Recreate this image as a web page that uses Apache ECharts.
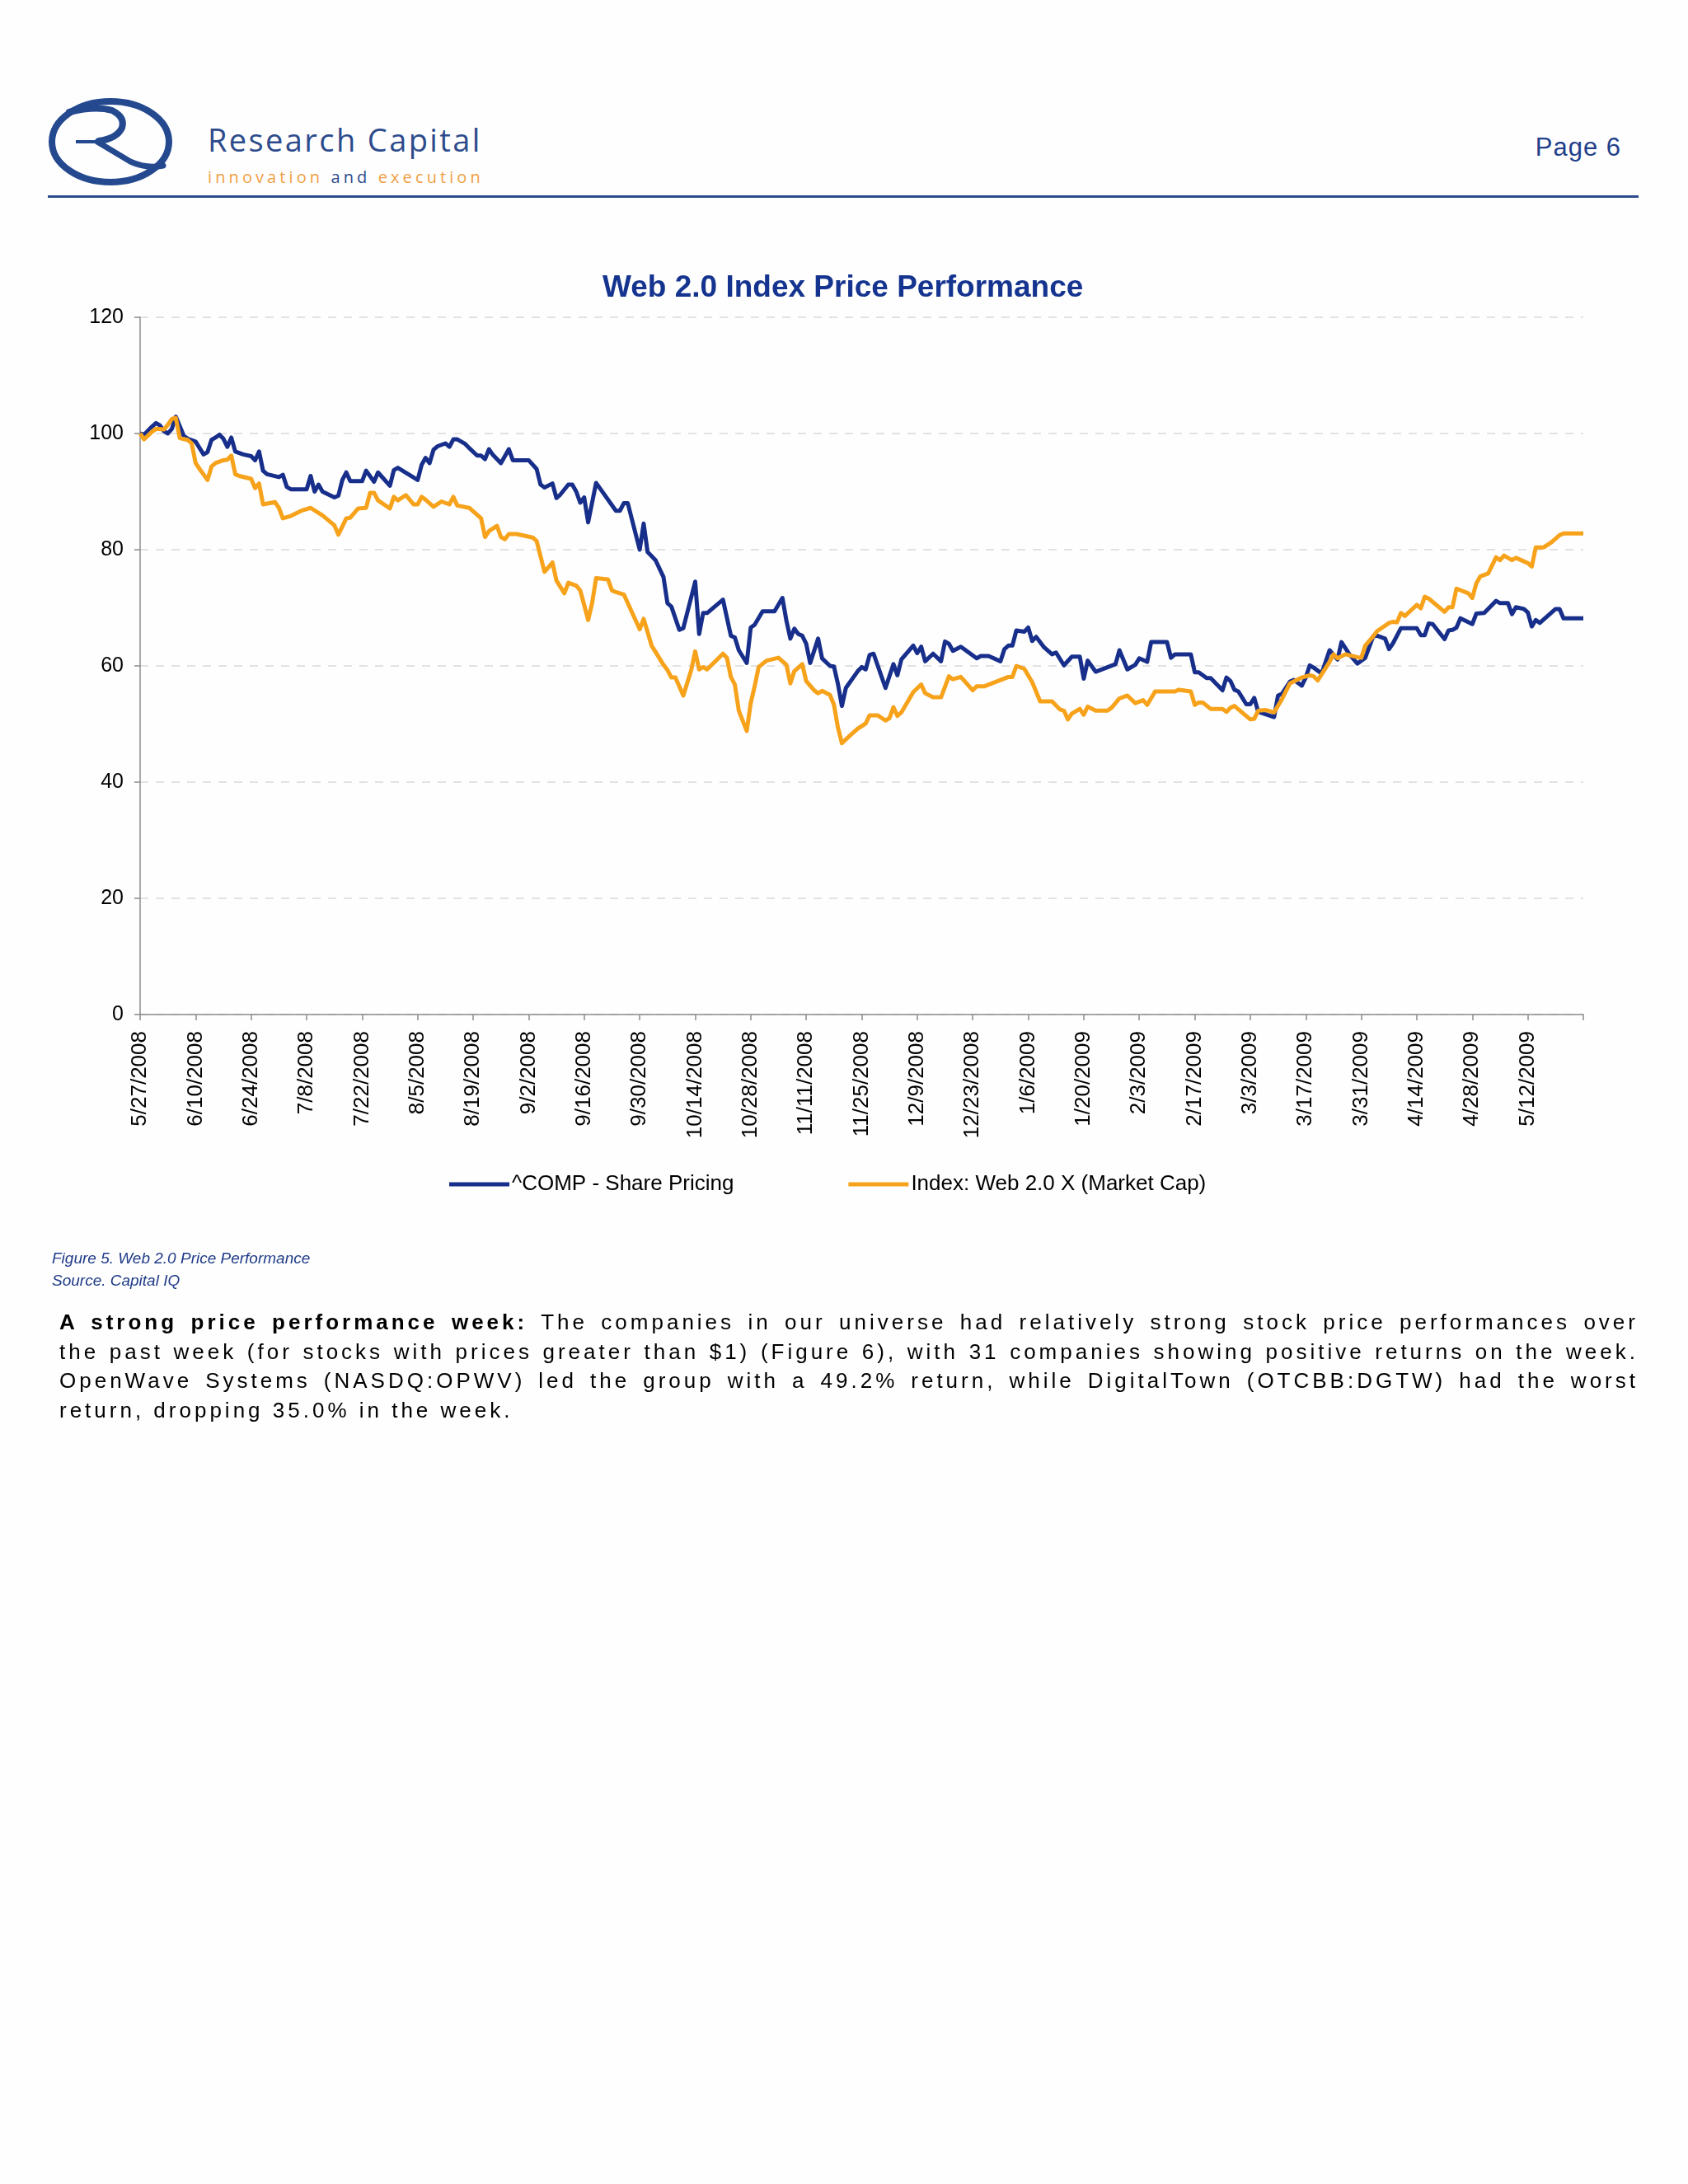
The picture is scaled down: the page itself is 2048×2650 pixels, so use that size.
<!DOCTYPE html>
<html>
<head>
<meta charset="utf-8">
<script src="https://cdn.jsdelivr.net/npm/echarts/dist/echarts.min.js"></script>
<style>
  html, body { margin: 0; padding: 0; background: #fefefe; }
  #page { position: relative; width: 2048px; height: 2650px; overflow: hidden; background: #fefefe; }
  #chart { position: absolute; left: 0; top: 0; width: 2048px; height: 2650px; }
  .abs { position: absolute; white-space: nowrap; }
  #brand { left: 252px; top: 150px; font: 38px/38px "Open Sans", sans-serif; letter-spacing: 2.4px; color: #2d4b8c; }
  #tag { left: 252px; top: 205px; font: 20px/20px "Open Sans", sans-serif; letter-spacing: 4.1px; color: #f0a043; }
  #tag .and { color: #2d4b8c; }
  #pageno { right: 81px; top: 163px; font: 31px/31px "Liberation Sans", Arial, sans-serif; letter-spacing: 1px; color: #1f3f8a; }
  #rule { left: 58px; top: 237px; width: 1930px; height: 3px; background: #2d4b8c; }
  #caption { left: 63px; top: 1513px; font: italic 19px/27px "Liberation Sans", Arial, sans-serif; color: #1f3b87; }
  #para { position: absolute; left: 72px; width: 1916px; top: 1587px; font: 26px/35.5px "Liberation Sans", Arial, sans-serif; letter-spacing: 4px; color: #000; }
  #para .ln { text-align: justify; text-align-last: justify; white-space: nowrap; }
  #para .ln.last { text-align-last: left; }
</style>
</head>
<body>
<div id="page">
  <svg class="abs" style="left:0;top:0" width="300" height="260" viewBox="0 0 300 260">
    <ellipse cx="134" cy="172" rx="71" ry="49" fill="none" stroke="#24498f" stroke-width="8"/>
    <path d="M84 136 Q116 128 136 134 Q152 142 148 155 Q142 168 120 171" fill="none" stroke="#24498f" stroke-width="8" stroke-linecap="round"/>
    <path d="M92 172 L128 172" fill="none" stroke="#24498f" stroke-width="4"/>
    <path d="M118 172 Q138 184 158 196 Q178 205 198 201" fill="none" stroke="#24498f" stroke-width="7" stroke-linecap="round"/>
  </svg>
  <div id="brand" class="abs">Research Capital</div>
  <div id="tag" class="abs">innovation <span class="and">and</span> execution</div>
  <div id="pageno" class="abs">Page 6</div>
  <div id="rule" class="abs"></div>
  <div id="chart"></div>
  <div id="caption" class="abs">Figure 5. Web 2.0 Price Performance<br>Source. Capital IQ</div>
  <div id="para">
    <div class="ln"><b>A strong price performance week:</b> The companies in our universe had relatively strong stock price performances over</div>
    <div class="ln">the past week (for stocks with prices greater than $1) (Figure 6), with 31 companies showing positive returns on the week.</div>
    <div class="ln">OpenWave Systems (NASDQ:OPWV) led the group with a 49.2% return, while DigitalTown (OTCBB:DGTW) had the worst</div>
    <div class="ln last">return, dropping 35.0% in the week.</div>
  </div>
</div>
<script>
// ---------- data ----------
const chartTitle = 'Web 2.0 Index Price Performance';
const seriesNames = ['^COMP - Share Pricing', 'Index: Web 2.0 X (Market Cap)'];
const tickLabels = ['5/27/2008','6/10/2008','6/24/2008','7/8/2008','7/22/2008','8/5/2008','8/19/2008','9/2/2008',
  '9/16/2008','9/30/2008','10/14/2008','10/28/2008','11/11/2008','11/25/2008','12/9/2008','12/23/2008','1/6/2009',
  '1/20/2009','2/3/2009','2/17/2009','3/3/2009','3/17/2009','3/31/2009','4/14/2009','4/28/2009','5/12/2009'];
const axisStartDate = '5/27/2008';
const axisEndDate = '5/26/2009';

// ^COMP - Share Pricing  [date, indexed value]
const comSeries = [
 ['5/27/2008',100.0],['5/28/2008',99.8],['5/30/2008',101.2],['5/31/2008',101.8],['6/1/2008',101.4],['6/2/2008',100.4],
 ['6/3/2008',100.0],['6/4/2008',100.8],['6/5/2008',102.9],['6/7/2008',99.6],['6/8/2008',99.1],['6/10/2008',98.6],
 ['6/12/2008',96.4],['6/13/2008',96.8],['6/14/2008',98.9],['6/15/2008',99.3],['6/16/2008',99.8],['6/17/2008',99.1],
 ['6/18/2008',97.7],['6/19/2008',99.3],['6/20/2008',96.9],['6/22/2008',96.4],['6/24/2008',96.1],['6/25/2008',95.4],
 ['6/26/2008',96.9],['6/27/2008',93.6],['6/28/2008',93.0],['7/1/2008',92.5],['7/2/2008',92.9],['7/3/2008',90.8],
 ['7/4/2008',90.4],['7/8/2008',90.4],['7/9/2008',92.7],['7/10/2008',90.0],['7/11/2008',91.2],['7/12/2008',90.0],
 ['7/15/2008',89.0],['7/16/2008',89.3],['7/17/2008',92.0],['7/18/2008',93.3],['7/19/2008',91.8],['7/22/2008',91.8],
 ['7/23/2008',93.6],['7/25/2008',91.7],['7/26/2008',93.3],['7/29/2008',91.0],['7/30/2008',93.7],['7/31/2008',94.1],
 ['8/5/2008',92.0],['8/6/2008',94.6],['8/7/2008',95.8],['8/8/2008',94.9],['8/9/2008',97.2],['8/10/2008',97.8],
 ['8/12/2008',98.3],['8/13/2008',97.7],['8/14/2008',99.0],['8/15/2008',99.0],['8/17/2008',98.2],['8/18/2008',97.5],
 ['8/20/2008',96.2],['8/21/2008',96.2],['8/22/2008',95.6],['8/23/2008',97.3],['8/24/2008',96.3],['8/26/2008',94.9],
 ['8/28/2008',97.3],['8/29/2008',95.4],['9/2/2008',95.4],['9/4/2008',93.9],['9/5/2008',91.2],['9/6/2008',90.7],
 ['9/8/2008',91.4],['9/9/2008',88.9],['9/10/2008',89.5],['9/12/2008',91.2],['9/13/2008',91.2],['9/14/2008',90.0],
 ['9/15/2008',88.1],['9/16/2008',89.0],['9/17/2008',84.7],['9/19/2008',91.5],['9/24/2008',86.7],['9/25/2008',86.7],
 ['9/26/2008',88.0],['9/27/2008',88.0],['9/30/2008',80.0],['10/1/2008',84.5],['10/2/2008',79.6],['10/4/2008',78.2],
 ['10/6/2008',75.3],['10/7/2008',70.8],['10/8/2008',70.2],['10/10/2008',66.2],['10/11/2008',66.5],['10/14/2008',74.5],
 ['10/15/2008',65.5],['10/16/2008',69.1],['10/17/2008',69.1],['10/21/2008',71.4],['10/23/2008',65.2],['10/24/2008',64.9],
 ['10/25/2008',62.7],['10/27/2008',60.5],['10/28/2008',66.6],['10/29/2008',67.1],['10/31/2008',69.4],['11/3/2008',69.4],
 ['11/5/2008',71.7],['11/6/2008',67.8],['11/7/2008',64.7],['11/8/2008',66.4],['11/9/2008',65.5],['11/10/2008',65.2],
 ['11/11/2008',63.8],['11/12/2008',60.5],['11/14/2008',64.7],['11/15/2008',61.3],['11/17/2008',60.0],['11/18/2008',59.9],
 ['11/19/2008',56.9],['11/20/2008',53.1],['11/21/2008',56.2],['11/24/2008',59.1],['11/25/2008',59.8],['11/26/2008',59.4],
 ['11/27/2008',61.9],['11/28/2008',62.1],['12/1/2008',56.2],['12/3/2008',60.3],['12/4/2008',58.4],['12/5/2008',61.1],
 ['12/8/2008',63.5],['12/9/2008',62.2],['12/10/2008',63.3],['12/11/2008',60.8],['12/13/2008',62.1],['12/15/2008',60.8],
 ['12/16/2008',64.2],['12/17/2008',63.8],['12/18/2008',62.6],['12/20/2008',63.3],['12/24/2008',61.3],['12/25/2008',61.7],
 ['12/27/2008',61.7],['12/30/2008',60.8],['12/31/2008',62.9],['1/1/2009',63.5],['1/2/2009',63.5],['1/3/2009',66.1],
 ['1/5/2009',65.9],['1/6/2009',66.6],['1/7/2009',64.3],['1/8/2009',65.0],['1/10/2009',63.2],['1/12/2009',62.0],
 ['1/13/2009',62.3],['1/15/2009',60.1],['1/17/2009',61.6],['1/19/2009',61.6],['1/20/2009',57.8],['1/21/2009',60.9],
 ['1/23/2009',59.0],['1/28/2009',60.3],['1/29/2009',62.7],['1/31/2009',59.4],['2/2/2009',60.2],['2/3/2009',61.3],
 ['2/5/2009',60.7],['2/6/2009',64.1],['2/10/2009',64.1],['2/11/2009',61.4],['2/12/2009',62.0],['2/16/2009',62.0],
 ['2/17/2009',58.9],['2/18/2009',58.9],['2/20/2009',57.9],['2/21/2009',57.9],['2/24/2009',55.8],['2/25/2009',58.0],
 ['2/26/2009',57.4],['2/27/2009',55.9],['2/28/2009',55.6],['3/2/2009',53.4],['3/3/2009',53.4],['3/4/2009',54.5],
 ['3/5/2009',52.1],['3/9/2009',51.2],['3/10/2009',54.9],['3/11/2009',55.2],['3/13/2009',57.3],['3/14/2009',57.6],
 ['3/16/2009',56.6],['3/17/2009',58.0],['3/18/2009',60.1],['3/19/2009',59.7],['3/21/2009',58.7],['3/23/2009',62.7],
 ['3/25/2009',61.1],['3/26/2009',64.1],['3/28/2009',62.0],['3/30/2009',60.4],['4/1/2009',61.4],['4/3/2009',65.1],
 ['4/4/2009',65.2],['4/6/2009',64.7],['4/7/2009',62.9],['4/8/2009',63.9],['4/10/2009',66.5],['4/14/2009',66.5],
 ['4/15/2009',65.3],['4/16/2009',65.3],['4/17/2009',67.3],['4/18/2009',67.2],['4/21/2009',64.6],['4/22/2009',66.1],
 ['4/23/2009',66.2],['4/24/2009',66.6],['4/25/2009',68.2],['4/28/2009',67.2],['4/29/2009',69.0],['5/1/2009',69.1],
 ['5/4/2009',71.2],['5/5/2009',70.8],['5/7/2009',70.8],['5/8/2009',68.9],['5/9/2009',70.1],['5/11/2009',69.8],
 ['5/12/2009',69.2],['5/13/2009',66.8],['5/14/2009',67.9],['5/15/2009',67.4],['5/19/2009',69.8],['5/20/2009',69.8],
 ['5/21/2009',68.2],['5/26/2009',68.2]
];

// Index: Web 2.0 X (Market Cap)  [date, indexed value]
const webSeries = [
 ['5/27/2008',100.0],['5/28/2008',99.0],['5/30/2008',100.3],['5/31/2008',100.8],['6/2/2008',100.7],['6/3/2008',101.5],
 ['6/4/2008',102.5],['6/5/2008',102.7],['6/6/2008',99.2],['6/8/2008',98.9],['6/9/2008',98.3],['6/10/2008',94.9],
 ['6/11/2008',93.9],['6/13/2008',92.0],['6/14/2008',94.3],['6/15/2008',94.9],['6/17/2008',95.4],['6/18/2008',95.5],
 ['6/19/2008',96.2],['6/20/2008',93.0],['6/21/2008',92.7],['6/24/2008',92.2],['6/25/2008',90.6],['6/26/2008',91.4],
 ['6/27/2008',87.8],['6/30/2008',88.2],['7/1/2008',87.2],['7/2/2008',85.4],['7/4/2008',85.8],['7/7/2008',86.8],
 ['7/9/2008',87.2],['7/12/2008',85.9],['7/15/2008',84.2],['7/16/2008',82.6],['7/17/2008',84.0],['7/18/2008',85.4],
 ['7/19/2008',85.5],['7/21/2008',87.1],['7/23/2008',87.2],['7/24/2008',89.8],['7/25/2008',89.8],['7/26/2008',88.5],
 ['7/29/2008',87.1],['7/30/2008',89.1],['7/31/2008',88.5],['8/2/2008',89.4],['8/4/2008',87.8],['8/5/2008',87.8],
 ['8/6/2008',89.1],['8/7/2008',88.6],['8/9/2008',87.4],['8/11/2008',88.3],['8/13/2008',87.8],['8/14/2008',89.1],
 ['8/15/2008',87.6],['8/18/2008',87.2],['8/21/2008',85.4],['8/22/2008',82.2],['8/23/2008',83.2],['8/25/2008',84.1],
 ['8/26/2008',82.2],['8/27/2008',81.8],['8/28/2008',82.7],['8/30/2008',82.7],['9/3/2008',82.1],['9/4/2008',81.5],
 ['9/6/2008',76.2],['9/8/2008',77.8],['9/9/2008',74.7],['9/11/2008',72.5],['9/12/2008',74.3],['9/14/2008',73.8],
 ['9/15/2008',73.0],['9/16/2008',70.5],['9/17/2008',67.9],['9/18/2008',70.8],['9/19/2008',75.1],['9/22/2008',74.9],
 ['9/23/2008',73.0],['9/24/2008',72.7],['9/26/2008',72.3],['9/30/2008',66.3],['10/1/2008',68.1],['10/3/2008',63.5],
 ['10/6/2008',60.2],['10/7/2008',59.3],['10/8/2008',58.0],['10/9/2008',58.0],['10/11/2008',54.9],['10/13/2008',59.3],
 ['10/14/2008',62.5],['10/15/2008',59.4],['10/16/2008',59.8],['10/17/2008',59.4],['10/21/2008',62.1],['10/22/2008',61.4],
 ['10/23/2008',58.1],['10/24/2008',56.8],['10/25/2008',52.3],['10/27/2008',48.8],['10/28/2008',53.6],['10/29/2008',56.5],
 ['10/30/2008',59.8],['11/1/2008',60.9],['11/4/2008',61.4],['11/6/2008',60.2],['11/7/2008',57.0],['11/8/2008',59.1],
 ['11/10/2008',60.3],['11/11/2008',57.4],['11/13/2008',55.8],['11/14/2008',55.3],['11/15/2008',55.7],['11/17/2008',55.0],
 ['11/18/2008',53.3],['11/19/2008',49.4],['11/20/2008',46.7],['11/22/2008',48.0],['11/24/2008',49.2],['11/26/2008',50.1],
 ['11/27/2008',51.5],['11/29/2008',51.5],['12/1/2008',50.6],['12/2/2008',51.0],['12/3/2008',52.9],['12/4/2008',51.4],
 ['12/5/2008',52.0],['12/8/2008',55.5],['12/10/2008',56.8],['12/11/2008',55.3],['12/13/2008',54.6],['12/15/2008',54.6],
 ['12/17/2008',58.2],['12/18/2008',57.7],['12/20/2008',58.1],['12/23/2008',55.8],['12/24/2008',56.5],['12/26/2008',56.5],
 ['1/1/2009',58.1],['1/2/2009',58.1],['1/3/2009',60.0],['1/5/2009',59.5],['1/7/2009',57.2],['1/9/2009',53.9],
 ['1/12/2009',53.9],['1/14/2009',52.5],['1/15/2009',52.3],['1/16/2009',50.8],['1/17/2009',51.8],['1/19/2009',52.6],
 ['1/20/2009',51.6],['1/21/2009',53.0],['1/23/2009',52.3],['1/26/2009',52.3],['1/27/2009',52.8],['1/29/2009',54.4],
 ['1/31/2009',54.9],['2/2/2009',53.6],['2/4/2009',54.1],['2/5/2009',53.3],['2/7/2009',55.6],['2/12/2009',55.6],
 ['2/13/2009',55.9],['2/16/2009',55.6],['2/17/2009',53.3],['2/18/2009',53.7],['2/19/2009',53.7],['2/21/2009',52.6],
 ['2/24/2009',52.6],['2/25/2009',52.1],['2/26/2009',52.8],['2/27/2009',53.1],['3/3/2009',50.8],['3/4/2009',50.9],
 ['3/5/2009',52.3],['3/7/2009',52.4],['3/9/2009',52.0],['3/11/2009',54.3],['3/13/2009',57.0],['3/16/2009',58.0],
 ['3/18/2009',58.4],['3/19/2009',58.2],['3/20/2009',57.5],['3/23/2009',60.7],['3/24/2009',62.0],['3/25/2009',61.3],
 ['3/27/2009',62.0],['3/30/2009',61.5],['3/31/2009',61.4],['4/1/2009',63.5],['4/3/2009',65.1],['4/4/2009',66.0],
 ['4/7/2009',67.4],['4/8/2009',67.6],['4/9/2009',67.5],['4/10/2009',69.1],['4/11/2009',68.6],['4/14/2009',70.5],
 ['4/15/2009',69.9],['4/16/2009',71.9],['4/17/2009',71.6],['4/21/2009',69.3],['4/22/2009',70.1],['4/23/2009',70.1],
 ['4/24/2009',73.3],['4/27/2009',72.5],['4/28/2009',71.7],['4/29/2009',74.2],['4/30/2009',75.4],['5/2/2009',75.9],
 ['5/4/2009',78.7],['5/5/2009',78.2],['5/6/2009',79.0],['5/8/2009',78.2],['5/9/2009',78.6],['5/11/2009',78.0],
 ['5/12/2009',77.7],['5/13/2009',77.1],['5/14/2009',80.4],['5/16/2009',80.4],['5/18/2009',81.3],['5/20/2009',82.5],
 ['5/21/2009',82.8],['5/26/2009',82.8]
];

const yMin = 0, yMax = 120, yStep = 20;
const xStepDays = 14;

// ---------- helpers ----------
function utc(s) { const p = s.split('/').map(Number); return Date.UTC(p[2], p[0] - 1, p[1]); }
const t0 = utc(axisStartDate);
function dayOf(s) { return Math.round((utc(s) - t0) / 86400000); }
const labelByDay = {};
tickLabels.forEach(l => { labelByDay[dayOf(l)] = l; });
const toPoints = arr => arr.map(d => [dayOf(d[0]), d[1]]);

const blue = '#172f8b';
const orange = '#f7a21b';

const chart = echarts.init(document.getElementById('chart'), null, { renderer: 'canvas' });
chart.setOption({
  backgroundColor: 'transparent',
  animation: false,
  title: {
    text: chartTitle,
    left: 731, top: 331, padding: 0,
    textStyle: { fontFamily: '"Liberation Sans", Arial, sans-serif', fontSize: 37, fontWeight: 'bold', color: '#15348f' }
  },
  legend: {
    data: seriesNames,
    left: 545, top: 1424, padding: 0,
    itemGap: 139, itemWidth: 73, itemHeight: 5,
    icon: 'rect',
    textStyle: { fontFamily: '"Liberation Sans", Arial, sans-serif', fontSize: 26, color: '#000', padding: [0, 0, 0, -2] }
  },
  grid: { left: 170, top: 385, width: 1751, height: 846, containLabel: false },
  xAxis: {
    type: 'value',
    min: 0, max: dayOf(axisEndDate), interval: xStepDays,
    axisLine: { show: true, lineStyle: { color: '#8c8c8c', width: 1.5 } },
    axisTick: { show: true, length: 7, lineStyle: { color: '#8c8c8c', width: 1.5 } },
    splitLine: { show: false },
    axisLabel: {
      rotate: 90, margin: 20, fontSize: 26, color: '#000',
      fontFamily: '"Liberation Sans", Arial, sans-serif',
      showMinLabel: true, showMaxLabel: true,
      formatter: v => labelByDay[Math.round(v)] || ''
    }
  },
  yAxis: {
    type: 'value',
    min: yMin, max: yMax, interval: yStep,
    axisLine: { show: true, lineStyle: { color: '#8c8c8c', width: 1.5 } },
    axisTick: { show: true, length: 7, lineStyle: { color: '#8c8c8c', width: 1.5 } },
    splitLine: { show: true, lineStyle: { color: '#d9d9d9', width: 1.5, type: [10, 9] } },
    axisLabel: { margin: 20, fontSize: 25, color: '#000', fontFamily: '"Liberation Sans", Arial, sans-serif' }
  },
  series: [
    {
      name: seriesNames[0], type: 'line', data: toPoints(comSeries),
      showSymbol: false, symbol: 'none',
      lineStyle: { color: blue, width: 5, join: 'round' }, itemStyle: { color: blue }
    },
    {
      name: seriesNames[1], type: 'line', data: toPoints(webSeries),
      showSymbol: false, symbol: 'none',
      lineStyle: { color: orange, width: 5, join: 'round' }, itemStyle: { color: orange }
    }
  ]
});
</script>
</body>
</html>
